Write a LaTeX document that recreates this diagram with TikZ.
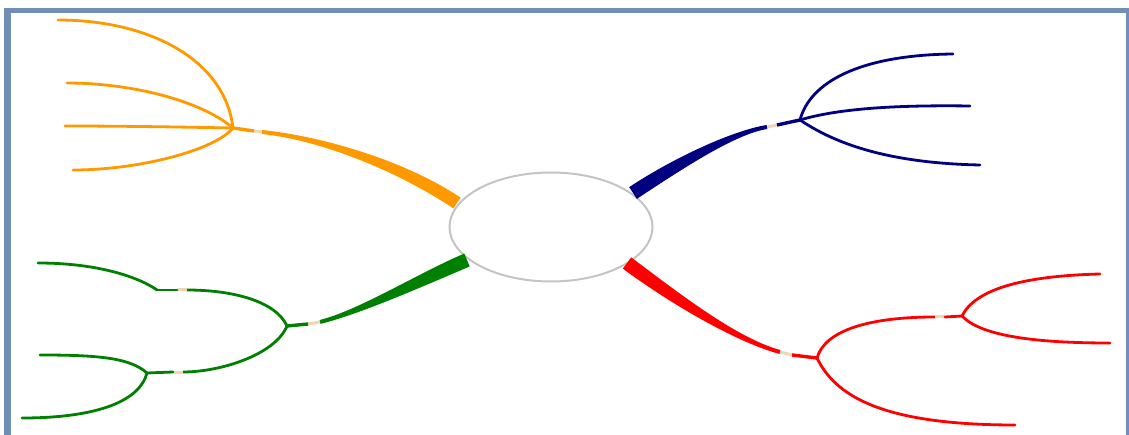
\documentclass[tikz,border=0pt]{standalone}
\usetikzlibrary{calc,shapes.geometric}
\definecolor{framec}{RGB}{112,142,182}
\definecolor{ellgray}{RGB}{196,196,196}
\definecolor{morange}{RGB}{255,153,0}
\definecolor{mblue}{RGB}{0,0,128}
\definecolor{mred}{RGB}{255,0,0}
\definecolor{mgreen}{RGB}{0,128,0}
\definecolor{gapc}{RGB}{240,214,180}
\tikzset{
  twig/.style={line width=2.8pt, line cap=round},
  stem/.style={line width=3.4pt},
  gapseg/.style={gapc, line width=3pt},
}
% tapered main branch: #1 P0, #2 C1, #3 C2, #4 P3, #5 half width start, #6 half width end, #7 colour
\newcommand{\taperbranch}[7]{%
  \path ($(#1)!#5!90:(#2)$) coordinate (ta)
        ($(#1)!#5!-90:(#2)$) coordinate (tb)
        ($(#4)!#6!-90:(#3)$) coordinate (tc)
        ($(#4)!#6!90:(#3)$) coordinate (td);
  \fill[#7] (ta) .. controls ($(#2)+(ta)-(#1)$) and ($(#3)+(tc)-(#4)$) .. (tc)
        -- (td) .. controls ($(#3)+(td)-(#4)$) and ($(#2)+(tb)-(#1)$) .. (tb) -- cycle;
}
\begin{document}
\begin{tikzpicture}[x=1pt,y=-1pt]
\useasboundingbox (0,0) rectangle (1129,435);
\fill[white] (0,0) rectangle (1129,435);
% frame
\fill[framec] (4,8) rectangle (1129,13);
\fill[framec] (4,8) rectangle (11,435);
\fill[framec] (1126,8) rectangle (1129,435);
% centre
\node[draw=ellgray, line width=2pt, ellipse, minimum width=203pt, minimum height=109pt, inner sep=0pt] (c) at (551,227) {};
% ---------- coordinates
% orange
\coordinate (o0) at (457,203); \coordinate (oc1) at (400,165); \coordinate (oc2) at (320,138);
\coordinate (og1) at (262,132); \coordinate (og2) at (254,131); \coordinate (oj) at (233,128);
\coordinate (o1) at (58,20); \coordinate (o2) at (67,83); \coordinate (o3) at (65,126); \coordinate (o4) at (73,170);
% blue
\coordinate (b0) at (633,193); \coordinate (bc1) at (680,162); \coordinate (bc2) at (735,132);
\coordinate (bg1) at (767,127); \coordinate (bg2) at (777,125); \coordinate (bj) at (800,120);
\coordinate (b1) at (953,54); \coordinate (b2) at (970,106); \coordinate (b3) at (980,165);
% red
\coordinate (r0) at (627,263); \coordinate (rc1) at (670,295); \coordinate (rc2) at (735,340);
\coordinate (rg1) at (780,352); \coordinate (rg2) at (792,355); \coordinate (rj) at (817,358);
\coordinate (ra1) at (935,317); \coordinate (ra2) at (945,317); \coordinate (rj2) at (962,316);
\coordinate (r1) at (1100,274); \coordinate (r2) at (1110,343); \coordinate (r3) at (1015,425);
% green
\coordinate (g0) at (467,260); \coordinate (gc1) at (420,280); \coordinate (gc2) at (360,312);
\coordinate (gg1) at (320,322); \coordinate (gg2) at (308,324); \coordinate (gj) at (287,326);
\coordinate (ga1) at (187,290); \coordinate (ga2) at (177,290); \coordinate (gja) at (157,290);
\coordinate (g1) at (38,263);
\coordinate (gb1) at (183,372); \coordinate (gb2) at (173,372); \coordinate (gjb) at (147,373);
\coordinate (g2) at (40,355); \coordinate (g3) at (22,418);
% ---------- orange branch
\taperbranch{o0}{oc1}{oc2}{og1}{6.5pt}{2pt}{morange}
\draw[gapseg] (og1) -- (og2);
\draw[stem, morange] (og2) -- (oj);
\draw[twig, morange] (oj) .. controls (225,60) and (150,20) .. (o1);
\draw[twig, morange] (oj) .. controls (200,100) and (130,83) .. (o2);
\draw[twig, morange] (oj) .. controls (180,127) and (120,126) .. (o3);
\draw[twig, morange] (oj) .. controls (215,150) and (140,170) .. (o4);
% ---------- blue branch
\taperbranch{b0}{bc1}{bc2}{bg1}{7pt}{2pt}{mblue}
\draw[gapseg] (bg1) -- (bg2);
\draw[stem, mblue] (bg2) -- (bj);
\draw[twig, mblue] (bj) .. controls (810,82) and (860,55) .. (b1);
\draw[twig, mblue] (bj) .. controls (840,108) and (900,105) .. (b2);
\draw[twig, mblue] (bj) .. controls (830,140) and (880,163) .. (b3);
% ---------- red branch
\taperbranch{r0}{rc1}{rc2}{rg1}{7pt}{2pt}{mred}
\draw[gapseg] (rg1) -- (rg2);
\draw[stem, mred] (rg2) -- (rj);
\draw[twig, mred] (rj) .. controls (825,330) and (870,317) .. (ra1);
\draw[gapseg] (ra1) -- (ra2);
\draw[twig, mred] (ra2) -- (rj2);
\draw[twig, mred] (rj2) .. controls (975,290) and (1020,276) .. (r1);
\draw[twig, mred] (rj2) .. controls (980,335) and (1030,343) .. (r2);
\draw[twig, mred] (rj) .. controls (835,395) and (880,425) .. (r3);
% ---------- green branch
\taperbranch{g0}{gc1}{gc2}{gg1}{7pt}{2pt}{mgreen}
\draw[gapseg] (gg1) -- (gg2);
\draw[stem, mgreen] (gg2) -- (gj);
\draw[twig, mgreen] (gj) .. controls (275,300) and (230,290) .. (ga1);
\draw[gapseg] (ga1) -- (ga2);
\draw[twig, mgreen] (ga2) -- (gja);
\draw[twig, mgreen] (gja) .. controls (140,278) and (100,263) .. (g1);
\draw[twig, mgreen] (gj) .. controls (275,355) and (220,372) .. (gb1);
\draw[gapseg] (gb1) -- (gb2);
\draw[twig, mgreen] (gb2) -- (gjb);
\draw[twig, mgreen] (gjb) .. controls (130,358) and (100,355) .. (g2);
\draw[twig, mgreen] (gjb) .. controls (140,400) and (100,418) .. (g3);
\end{tikzpicture}
\end{document}
